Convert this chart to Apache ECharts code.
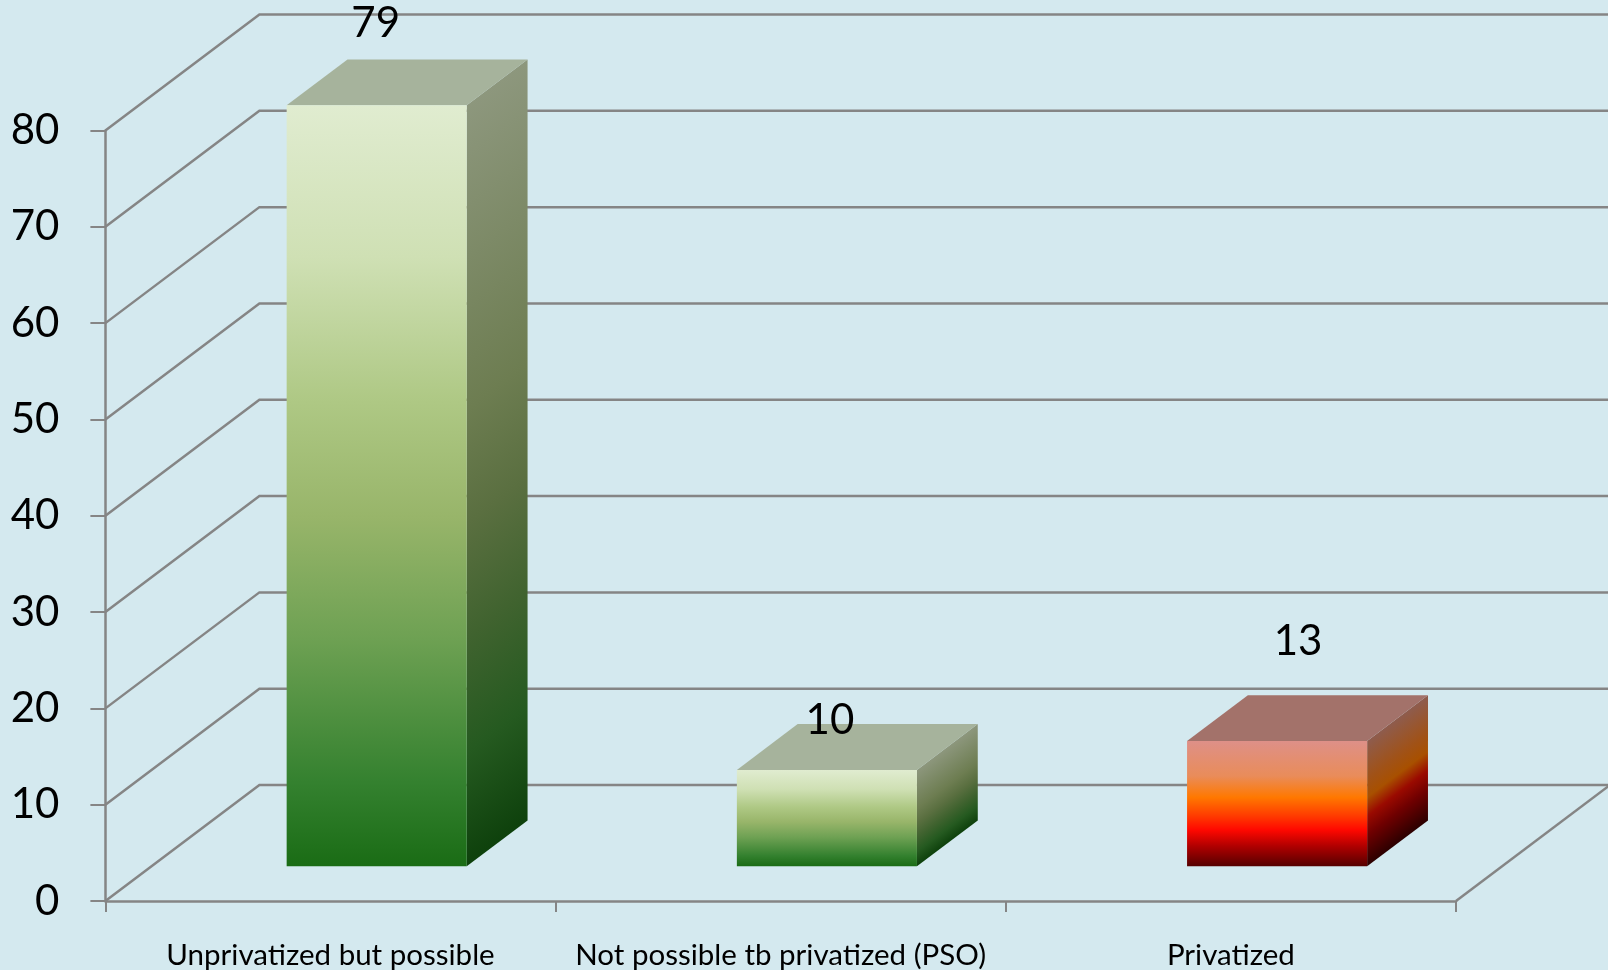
<!DOCTYPE html>
<html>
<head>
<meta charset="utf-8">
<script src="https://cdn.jsdelivr.net/npm/echarts@6/dist/echarts.min.js"></script>
<style>
  html, body { margin: 0; padding: 0; background: #D4E9EF; }
  #chart { width: 1608px; height: 970px; }
</style>
</head>
<body>
<div id="chart"></div>
<script>
// ---- data ----
const categories = ['Unprivatized but possible', 'Not possible tb privatized (PSO)', 'Privatized'];
const values = [79, 10, 13];
const yTicks = [0, 10, 20, 30, 40, 50, 60, 70, 80];

// ---- oblique 3D layout ----
const DEPTH = [154, -116];      // screen offset from the front plane to the back wall
const BAR_FRONT = 0.30;         // depth fraction where a bar's front face sits
const BAR_DEPTH = 0.395;        // bar thickness as a depth fraction
const BAR_WIDTH = 0.4;          // bar width as a fraction of the category band
const labelNudge = [[-1, -82], [3, -49], [21, -100]];
const GRID_COLOR = '#858585';
const FONT = 'Lato, "Open Sans", sans-serif';

// ---- face colours ----
const greenFront = [
  [0, '#E0ECD0'], [0.2, '#CFE0B4'], [0.39, '#AEC884'], [0.54, '#98B56A'],
  [0.7, '#6EA153'], [0.89, '#34812F'], [1, '#1A6C15']
];
const greenSide = [
  [0, '#8D977D'], [0.4, '#6D7D51'], [0.55, '#5A6F40'], [0.7, '#40632F'],
  [0.85, '#255A20'], [1, '#0E410C']
];
const redFront = [
  [0, '#DE9088'], [0.28, '#E98C5A'], [0.45, '#FF7800'], [0.6, '#FF3A00'],
  [0.71, '#FF0800'], [0.84, '#B00000'], [1, '#560000']
];
const redSide = [
  [0, '#8E5C4E'], [0.3, '#A05218'], [0.45, '#A85000'], [0.6, '#9A0A00'],
  [0.75, '#700000'], [1, '#2C0000']
];
const barStyles = [
  { front: greenFront, side: greenSide, top: '#A6B39C' },
  { front: greenFront, side: greenSide, top: '#A6B39C' },
  { front: redFront, side: redSide, top: '#A3726A' }
];

function verticalGradient(stops) {
  return new echarts.graphic.LinearGradient(0, 0, 0, 1,
    stops.map(s => ({ offset: s[0], color: s[1] })));
}

// gradient on the side face: colour stays constant along the depth direction
function sideGradient(stops, px, py, h, bd) {
  const gx = -bd[1], gy = bd[0];           // perpendicular to the depth vector
  const len2 = gx * gx + gy * gy;
  const t = (h * gy) / len2;
  return {
    type: 'linear', global: true,
    x: px, y: py, x2: px + gx * t, y2: py + gy * t,
    colorStops: stops.map(s => ({ offset: s[0], color: s[1] }))
  };
}

// back wall, side wall and floor lines
function renderWalls(params, api) {
  const cs = params.coordSys;
  const v = api.value(1);
  const x0 = cs.x;
  const y = api.coord([0, v])[1];
  const lineStyle = { stroke: GRID_COLOR, lineWidth: 2.5, fill: null };
  const children = [{
    type: 'polyline',
    shape: { points: [[x0, y], [x0 + DEPTH[0], y + DEPTH[1]], [cs.x + cs.width + DEPTH[0] + 20, y + DEPTH[1]]] },
    style: lineStyle
  }];
  if (v === 0) {
    const xe = cs.x + cs.width;
    children.push({
      type: 'line',
      shape: { x1: xe, y1: y, x2: xe + DEPTH[0], y2: y + DEPTH[1] },
      style: lineStyle
    });
  }
  return { type: 'group', children };
}

function renderBar(params, api) {
  const i = api.value(0);
  const v = api.value(1);
  const top = api.coord([i, v]);
  const base = api.coord([i, 0]);
  const bw = api.size([1, 0])[0] * BAR_WIDTH;
  const fx = top[0] - bw / 2 + BAR_FRONT * DEPTH[0];
  const fyTop = top[1] + BAR_FRONT * DEPTH[1];
  const fyBot = base[1] + BAR_FRONT * DEPTH[1];
  const bd = [BAR_DEPTH * DEPTH[0], BAR_DEPTH * DEPTH[1]];
  const st = barStyles[i];
  const h = fyBot - fyTop;
  const nudge = labelNudge[i];
  return {
    type: 'group',
    children: [
      {
        type: 'polygon',
        shape: { points: [[fx + bw, fyTop], [fx + bw + bd[0], fyTop + bd[1]], [fx + bw + bd[0], fyBot + bd[1]], [fx + bw, fyBot]] },
        style: { fill: sideGradient(st.side, fx + bw, fyTop, h, bd) }
      },
      {
        type: 'polygon',
        shape: { points: [[fx, fyTop], [fx + bw, fyTop], [fx + bw + bd[0], fyTop + bd[1]], [fx + bd[0], fyTop + bd[1]]] },
        style: { fill: st.top }
      },
      {
        type: 'rect',
        shape: { x: fx, y: fyTop, width: bw, height: h },
        style: { fill: verticalGradient(st.front) }
      },
      {
        type: 'text',
        x: fx + bw / 2 + nudge[0],
        y: fyTop + nudge[1],
        style: {
          text: String(v), fill: '#000', fontSize: 42, fontFamily: FONT,
          align: 'center', verticalAlign: 'middle'
        }
      }
    ]
  };
}

const chart = echarts.init(document.getElementById('chart'), null, { renderer: 'canvas' });
chart.setOption({
  backgroundColor: '#D4E9EF',
  animation: false,
  grid: { left: 105.4, right: 152, top: 130.5, bottom: 68.5, containLabel: false },
  xAxis: {
    type: 'category',
    data: categories,
    boundaryGap: true,
    axisLine: { show: true, lineStyle: { color: GRID_COLOR, width: 2.5 } },
    axisTick: { show: true, length: 11, lineStyle: { color: GRID_COLOR, width: 2 } },
    axisLabel: { interval: 0, color: '#000', fontSize: 29.5, fontFamily: FONT, margin: 39 },
    splitLine: { show: false }
  },
  yAxis: {
    type: 'value',
    min: 0, max: 80, interval: 10,
    axisLine: { show: true, lineStyle: { color: GRID_COLOR, width: 2.5 } },
    axisTick: { show: true, length: 15, lineStyle: { color: GRID_COLOR, width: 2 } },
    axisLabel: { color: '#000', fontSize: 42, fontFamily: FONT, margin: 46 },
    splitLine: { show: false }
  },
  series: [
    {
      type: 'custom', name: 'walls', silent: true, z: 1,
      renderItem: renderWalls,
      encode: { x: 0, y: 1 },
      data: yTicks.map(v => [0, v])
    },
    {
      type: 'custom', name: 'bars', z: 3,
      renderItem: renderBar,
      encode: { x: 0, y: 1 },
      data: values.map((v, i) => [i, v])
    }
  ]
});
</script>
</body>
</html>
